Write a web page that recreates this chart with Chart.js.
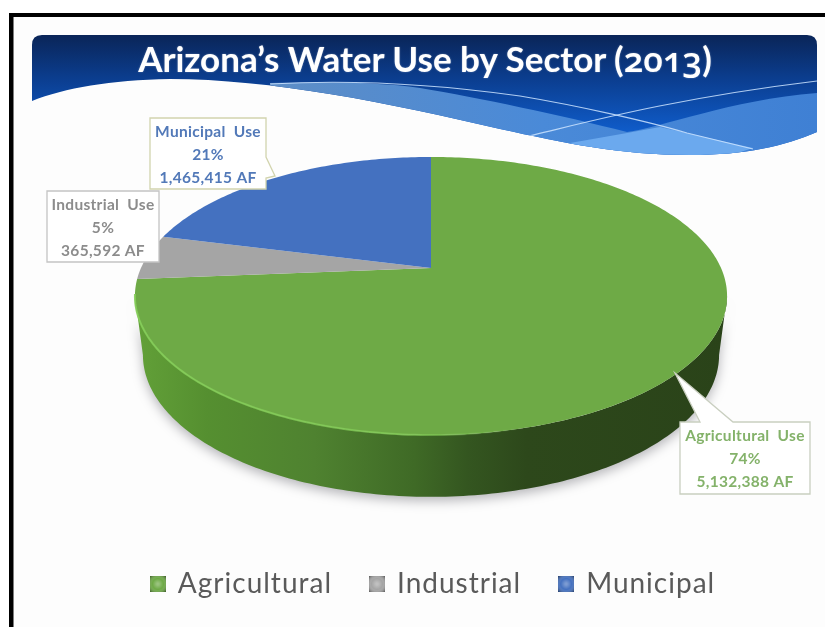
<!DOCTYPE html>
<html>
<head>
<meta charset="utf-8">
<title>Arizona's Water Use by Sector (2013)</title>
<script src="https://cdn.jsdelivr.net/npm/chart.js@4"></script>
<style>
  html, body { margin: 0; padding: 0; background: #fff; overflow: hidden; }
  #wrap { position: relative; width: 825px; height: 627px; }
  #chart { position: absolute; left: 0; top: 0; }
  #title {
    position: absolute; left: 32px; width: 786px; top: 35px; margin: 0;
    text-align: center; color: #fff; white-space: nowrap;
    font: 700 35px/46px Lato, sans-serif;
    text-shadow: 0 0 2px rgba(255,255,255,.35);
  }
  #title span { font-family: "Open Sans", sans-serif; font-weight: 600; font-feature-settings: "onum"; }
</style>
</head>
<body>
<div id="wrap">
  <canvas id="chart" width="825" height="627"></canvas>
  <h1 id="title">Arizona’s Water Use by Sector (<span>2013</span>)</h1>
</div>
<script>
const sectors = ['Agricultural', 'Industrial', 'Municipal'];
const acreFeet = [5132388, 365592, 1465415];
const sliceColors = ['#6eaa46', '#a5a5a5', '#4471c0'];
const calloutColors = ['#84b26a', '#8c8c8c', '#5279b8'];
const calloutBorders = ['#c9cfc0', '#c4c4c4', '#d2d4ae'];

// the pie is tilted, so its centre sits above the middle of the ellipse
const apex = { x: 431, y: 268 };
const tilt = 0.2014;
const spanX = 290;
const spanY = 133.4;

const project = (angle) => {
  const w = 1 - tilt * Math.sin(angle);
  return { x: apex.x + spanX * Math.cos(angle) / w, y: apex.y + spanY * Math.sin(angle) / w };
};
// same point on the bottom face of the disc
const lower = (p) => ({ x: apex.x + (p.x - apex.x) * 0.973, y: 355 + (p.y - 296) * 1.02 });

const arcPoints = (start, end) => {
  const steps = Math.max(2, Math.ceil((end - start) * 60));
  const pts = [];
  for (let i = 0; i <= steps; i++) pts.push(project(start + (end - start) * i / steps));
  return pts;
};

const drawBanner = (ctx) => {
  const edge = () => {
    ctx.beginPath();
    ctx.moveTo(32, 45);
    ctx.quadraticCurveTo(32, 35, 42, 35);
    ctx.lineTo(807, 35);
    ctx.quadraticCurveTo(817, 35, 817, 45);
    ctx.lineTo(817, 132);
    ctx.bezierCurveTo(785, 146, 745, 155, 690, 155);
    ctx.bezierCurveTo(620, 155, 565, 143, 500, 129);
    ctx.bezierCurveTo(390, 103, 270, 79, 170, 79);
    ctx.bezierCurveTo(110, 80, 65, 88, 32, 101);
    ctx.closePath();
  };
  ctx.save();
  edge();
  const base = ctx.createLinearGradient(0, 35, 0, 130);
  base.addColorStop(0, '#0a2558');
  base.addColorStop(0.45, '#0b3d8e');
  base.addColorStop(1, '#0f5bc8');
  ctx.fillStyle = base;
  ctx.fill();
  ctx.clip();

  // lighter band under the ribbon
  const band = ctx.createLinearGradient(270, 0, 817, 0);
  band.addColorStop(0, '#5d8dc6');
  band.addColorStop(0.5, '#4a8ad8');
  band.addColorStop(1, '#3f80d4');
  ctx.beginPath();
  ctx.moveTo(270, 83);
  ctx.bezierCurveTo(330, 82, 380, 82, 420, 88);
  ctx.bezierCurveTo(480, 98, 560, 115, 627, 132);
  ctx.bezierCurveTo(660, 128, 730, 100, 817, 93);
  ctx.lineTo(817, 170);
  ctx.lineTo(300, 170);
  ctx.closePath();
  ctx.fillStyle = band;
  ctx.fill();

  // lightest patch near the bottom of the wave
  ctx.beginPath();
  ctx.moveTo(570, 143);
  ctx.lineTo(627, 133);
  ctx.lineTo(660, 127);
  ctx.lineTo(753, 148);
  ctx.lineTo(700, 165);
  ctx.lineTo(600, 160);
  ctx.closePath();
  ctx.fillStyle = '#6ba9ee';
  ctx.fill();

  ctx.strokeStyle = 'rgba(205,228,255,0.85)';
  ctx.lineWidth = 1.2;
  ctx.beginPath();
  ctx.moveTo(270, 84);
  ctx.bezierCurveTo(340, 80, 420, 82, 520, 96);
  ctx.bezierCurveTo(580, 106, 650, 122, 687, 133);
  ctx.lineTo(753, 149);
  ctx.stroke();
  ctx.beginPath();
  ctx.moveTo(520, 138);
  ctx.bezierCurveTo(570, 127, 660, 100, 817, 81);
  ctx.stroke();
  ctx.restore();
};

const drawWall = (ctx, pts) => {
  const bottom = pts.map(lower);
  ctx.save();
  ctx.beginPath();
  pts.forEach((p, i) => (i ? ctx.lineTo(p.x, p.y) : ctx.moveTo(p.x, p.y)));
  bottom.reverse().forEach((p) => ctx.lineTo(p.x, p.y));
  ctx.closePath();
  const side = ctx.createLinearGradient(137, 0, 727, 0);
  side.addColorStop(0, '#62a038');
  side.addColorStop(0.12, '#558f30');
  side.addColorStop(0.3, '#4f8230');
  side.addColorStop(0.47, '#3f6a26');
  side.addColorStop(0.56, '#345620');
  side.addColorStop(0.66, '#2d481b');
  side.addColorStop(1, '#2a4319');
  ctx.fillStyle = side;
  ctx.shadowColor = 'rgba(60,60,70,0.38)';
  ctx.shadowBlur = 12;
  ctx.shadowOffsetY = 4;
  ctx.fill();
  ctx.restore();
};

// tilted pie: angles come from the pie controller's arc elements
const tiltedPie = {
  id: 'tiltedPie',
  beforeLayout(chart) {
    // the legend text in the reference runs a bit wide
    chart.ctx.letterSpacing = '1px';
  },
  beforeDraw(chart) {
    const ctx = chart.ctx;
    ctx.save();
    ctx.fillStyle = '#fdfdfd';
    ctx.fillRect(0, 0, 825, 627);
    ctx.fillStyle = '#000';
    ctx.fillRect(9, 13, 816, 4);
    ctx.fillRect(9, 13, 4.5, 614);
    ctx.fillStyle = '#fff';
    ctx.fillRect(0, 0, 825, 13);
    ctx.fillRect(0, 0, 9, 627);
    ctx.restore();
    drawBanner(ctx);
  },
  afterLayout(chart) {
    chart.legend.top -= 19;
  },
  beforeDatasetsDraw(chart) {
    const ctx = chart.ctx;
    const arcs = chart.getDatasetMeta(0).data;
    const colors = chart.data.datasets[0].backgroundColor;
    // only the front of the wall shows, between the two side extremes of the ellipse
    const sideAngle = Math.asin(tilt);
    const wallStart = Math.max(arcs[0].startAngle, sideAngle);
    const wallEnd = Math.min(arcs[0].endAngle, Math.PI - sideAngle);
    drawWall(ctx, arcPoints(wallStart, wallEnd));
    arcs.forEach((arc, i) => {
      const pts = arcPoints(arc.startAngle, arc.endAngle);
      ctx.beginPath();
      ctx.moveTo(apex.x, apex.y);
      pts.forEach((p) => ctx.lineTo(p.x, p.y));
      ctx.closePath();
      ctx.fillStyle = colors[i];
      ctx.fill();
    });
    // bright bevel along the front left rim
    const rim = ctx.createLinearGradient(137, 0, 520, 0);
    rim.addColorStop(0, 'rgba(132,205,88,0.9)');
    rim.addColorStop(0.7, 'rgba(132,205,88,0.75)');
    rim.addColorStop(1, 'rgba(132,205,88,0)');
    ctx.save();
    ctx.strokeStyle = rim;
    ctx.lineWidth = 2;
    ctx.beginPath();
    arcPoints(Math.PI * 0.42, Math.PI * 0.94).forEach((p, i) => (i ? ctx.lineTo(p.x, p.y) : ctx.moveTo(p.x, p.y)));
    ctx.stroke();
    ctx.restore();
    return false;
  },
  afterDraw(chart) {
    const ctx = chart.ctx;
    const total = acreFeet.reduce((sum, v) => sum + v, 0);
    const boxes = [
      { x: 680, y: 422, w: 130, h: 72, tail: [[700, 422], [675, 373], [733, 422]] },
      { x: 47, y: 191, w: 112, h: 71, tail: null },
      { x: 150, y: 118, w: 116, h: 71, tail: [[266, 157], [275, 176], [266, 178]] }
    ];
    ctx.save();
    boxes.forEach((box, i) => {
      ctx.beginPath();
      ctx.moveTo(box.x, box.y);
      if (box.tail && box.tail[0][1] === box.y) {
        box.tail.forEach(([x, y]) => ctx.lineTo(x, y));
      }
      ctx.lineTo(box.x + box.w, box.y);
      if (box.tail && box.tail[0][0] === box.x + box.w) {
        box.tail.forEach(([x, y]) => ctx.lineTo(x, y));
      }
      ctx.lineTo(box.x + box.w, box.y + box.h);
      ctx.lineTo(box.x, box.y + box.h);
      ctx.closePath();
      ctx.fillStyle = '#fff';
      ctx.fill();
      ctx.lineWidth = 1.3;
      ctx.strokeStyle = calloutBorders[i];
      ctx.stroke();

      const lines = [
        sectors[i] + '  Use',
        Math.round(acreFeet[i] / total * 100) + '%',
        acreFeet[i].toLocaleString('en-US') + ' AF'
      ];
      ctx.fillStyle = calloutColors[i];
      ctx.font = '700 15.5px Lato, sans-serif';
      ctx.letterSpacing = '0.3px';
      ctx.textAlign = 'center';
      ctx.textBaseline = 'middle';
      lines.forEach((line, n) => ctx.fillText(line, box.x + box.w / 2, box.y + 13.5 + n * 23));
    });
    ctx.restore();
  }
};

// little bevelled squares for the legend
const legendMark = (color) => {
  const c = document.createElement('canvas');
  c.width = 16;
  c.height = 16;
  const g = c.getContext('2d');
  g.fillStyle = color;
  g.fillRect(0, 0, 16, 16);
  const glow = g.createRadialGradient(8, 8, 1, 8, 8, 11);
  glow.addColorStop(0, 'rgba(255,255,255,0.3)');
  glow.addColorStop(0.45, 'rgba(255,255,255,0)');
  glow.addColorStop(1, 'rgba(0,0,0,0.45)');
  g.fillStyle = glow;
  g.fillRect(0, 0, 16, 16);
  return c;
};

new Chart(document.getElementById('chart'), {
  type: 'pie',
  plugins: [tiltedPie],
  data: {
    labels: sectors,
    datasets: [{ data: acreFeet, backgroundColor: sliceColors, borderWidth: 0 }]
  },
  options: {
    responsive: false,
    animation: false,
    devicePixelRatio: 1,
    layout: { padding: { left: 42 } },
    plugins: {
      title: { display: false },
      tooltip: { enabled: false },
      legend: {
        position: 'bottom',
        labels: {
          usePointStyle: true,
          pointStyleWidth: 12,
          padding: 39,
          color: '#5a5a5a',
          font: { family: 'Lato, sans-serif', size: 28 },
          generateLabels: (chart) => sectors.map((name, i) => ({
            text: name,
            fontColor: '#5a5a5a',
            pointStyle: legendMark(sliceColors[i]),
            lineWidth: 0,
            strokeStyle: 'transparent',
            fillStyle: sliceColors[i],
            index: i
          }))
        }
      }
    }
  }
});
</script>
</body>
</html>
